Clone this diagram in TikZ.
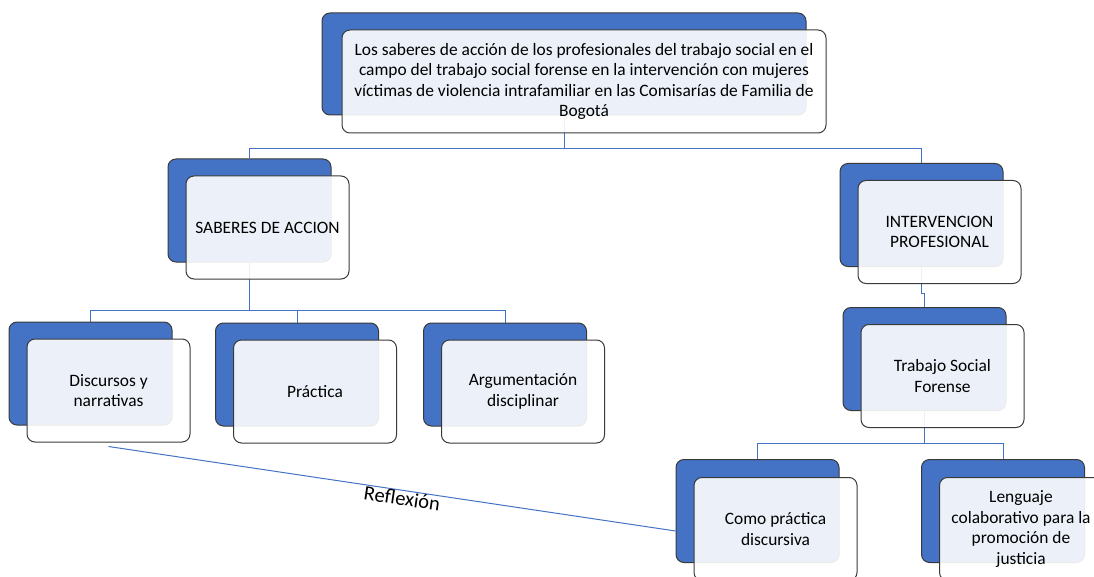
\documentclass[tikz,border=0pt]{standalone}
\usepackage{fontspec}
\setmainfont{Carlito}
\usetikzlibrary{positioning,calc,backgrounds}

\begin{document}
\begin{tikzpicture}[x=1pt,y=-1pt]
      \definecolor{blueback}{HTML}{4472C4}
      \definecolor{darkborder}{HTML}{3A3A3A}
      \definecolor{linkblue}{HTML}{4472C4}

      \newcommand{\boxfont}[0]{\fontsize{17.4}{20.5}\selectfont}
      \newcommand{\frontopacity}[0]{0.9}

      \tikzstyle{back}      = [rectangle, rounded corners=8pt, draw=darkborder, line width=1pt, fill=blueback, minimum width=163pt, minimum height=103pt]
      \tikzstyle{front}     = [rectangle, rounded corners=8pt, draw=darkborder, line width=1pt, fill=white, fill opacity=\frontopacity, text opacity=1, minimum width=163pt, minimum height=103pt, align=center, font=\boxfont]
      \tikzstyle{connector} = [draw=linkblue, line width=1pt]

      \useasboundingbox (0,0) rectangle (1094,577);

      % top
      \node [back, minimum width=484pt, minimum height=102pt]  (topback)       at (564,64)    {};
      \node [front, minimum width=484pt]                       (top)           at ($(topback)+(20,17.5)$) {Los saberes de acción de los profesionales del trabajo social en el\\campo del trabajo social forense en la intervención con mujeres\\víctimas de violencia intrafamiliar en las Comisarías de Familia de\\Bogotá};

      % second level
      \node [back]  (saberesback)   at (249.5,210.5) {};
      \node [front] (saberes)       at ($(saberesback)+(18,17)$)    {SABERES DE ACCION};
      \node [back]  (intervback)    at (921.5,215)   {};
      \node [front] (interv)        at ($(intervback)+(18,17)$)     {INTERVENCION\\PROFESIONAL};

      % third level
      \node [back]  (discursosback) at (90.5,373.5)  {};
      \node [front] (discursos)     at ($(discursosback)+(18,17)$)  {Discursos y\\narrativas};
      \node [back]  (practicaback)  at (297,374.5)   {};
      \node [front] (practica)      at ($(practicaback)+(18,17)$)   {Práctica};
      \node [back]  (argumentback)  at (505,374.5)   {};
      \node [front] (argument)      at ($(argumentback)+(18,17)$)   {Argumentación\\disciplinar};
      \node [back]  (forenseback)   at (924.5,359)   {};
      \node [front] (forense)       at ($(forenseback)+(18,17)$)    {Trabajo Social\\Forense};

      % fourth level
      \node [back]  (comoback)      at (757.5,511)   {};
      \node [front] (como)          at ($(comoback)+(18,18)$)       {Como práctica\\discursiva};
      \node [back]  (lenguajeback)  at (1003,511)    {};
      \node [front] (lenguaje)      at ($(lenguajeback)+(18,18)$)   {Lenguaje\\colaborativo para la\\promoción de\\justicia};

      \begin{scope}[on background layer]
        \coordinate (topjoint)     at (564,149);
        \coordinate (saberesjoint) at (249.5,310);
        \coordinate (forensejoint) at (924.5,443);

        \draw [connector] (topback.south) -- (topjoint) -| (saberesback.north);
        \draw [connector] (topjoint) -| (intervback.north);

        \draw [connector] (saberesback.south) -- (saberesjoint) -| (discursosback.north);
        \draw [connector] (saberesjoint) -| (practicaback.north);
        \draw [connector] (saberesjoint) -| (argumentback.north);

        \draw [connector] (intervback.south) -- ++(0,26) -| (forenseback.north);

        \draw [connector] (forenseback.south) -- (forensejoint) -| (comoback.north);
        \draw [connector] (forensejoint) -| (lenguajeback.north);
      \end{scope}

      \draw [connector] ($(discursos.south)+(0,4)$) -- node [pos=0.52, sloped, below=-3pt, font=\fontsize{20.5}{23}\selectfont] (reflexion) {Reflexión} ($(comoback.west)+(0,20)$);
    \end{tikzpicture}
\end{document}
